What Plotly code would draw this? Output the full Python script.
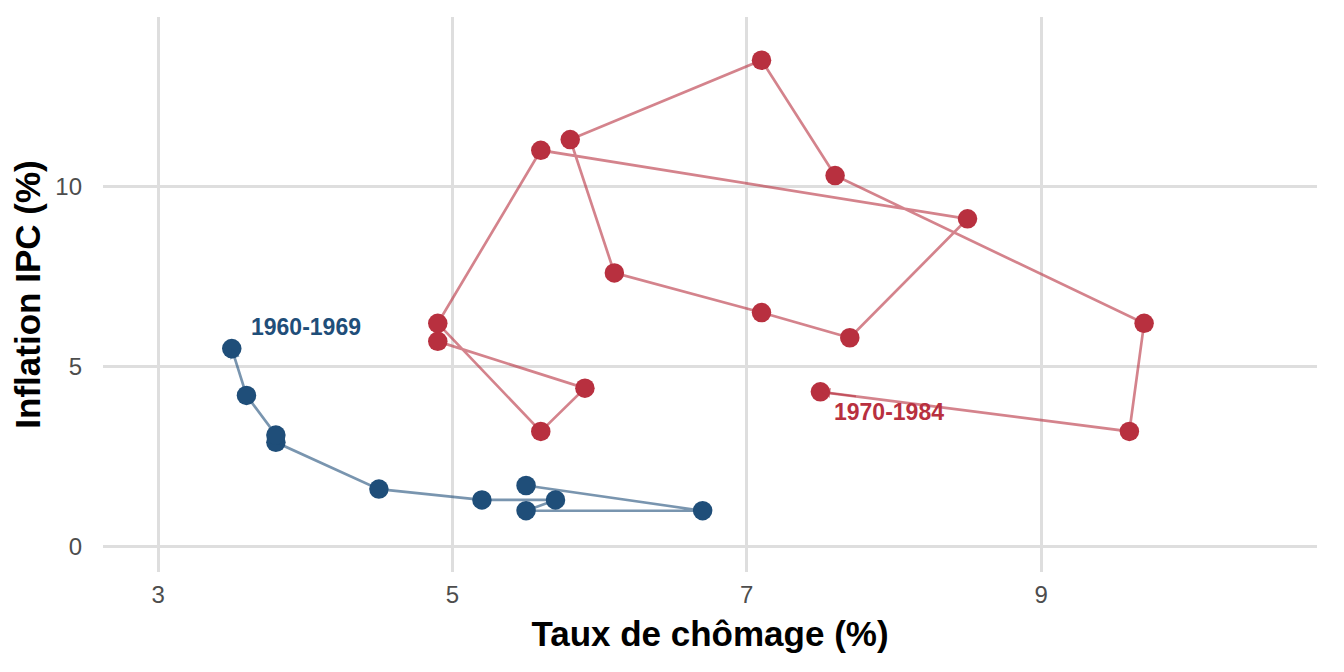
import plotly.graph_objects as go

# Courbe de Phillips, États-Unis
years_60s = list(range(1960, 1970))
unemp_60s = [5.5, 6.7, 5.5, 5.7, 5.2, 4.5, 3.8, 3.8, 3.6, 3.5]
infl_60s = [1.7, 1.0, 1.0, 1.3, 1.3, 1.6, 2.9, 3.1, 4.2, 5.5]

years_70s = list(range(1970, 1985))
unemp_70s = [4.9, 5.9, 5.6, 4.9, 5.6, 8.5, 7.7, 7.1, 6.1, 5.8, 7.1, 7.6, 9.7, 9.6, 7.5]
infl_70s = [5.7, 4.4, 3.2, 6.2, 11.0, 9.1, 5.8, 6.5, 7.6, 11.3, 13.5, 10.3, 6.2, 3.2, 4.3]

x_ticks = [3, 5, 7, 9]
y_ticks = [0, 5, 10]

BLUE = "#1F4E79"
BLUE_LINE = "rgba(31,78,121,0.6)"
RED = "#B8303F"
RED_LINE = "rgba(184,48,63,0.6)"
FONT = "Liberation Sans, Arial, sans-serif"

fig = go.Figure()

periods = [
    ("1960-1969", years_60s, unemp_60s, infl_60s, BLUE, BLUE_LINE, (0.12, 0.6)),
    ("1970-1984", years_70s, unemp_70s, infl_70s, RED, RED_LINE, (0.08, -0.55)),
]

for label, yrs, ux, iy, col, lcol, (dx, dy) in periods:
    fig.add_trace(go.Scatter(
        x=ux, y=iy, mode="lines",
        line=dict(color=lcol, width=2.7),
        hoverinfo="skip", showlegend=False,
    ))
    # small arrowhead on the last segment (short tail so the line isn't doubled)
    tail_x = ux[-1] + 0.12 * (ux[-2] - ux[-1])
    tail_y = iy[-1] + 0.12 * (iy[-2] - iy[-1])
    fig.add_annotation(
        x=ux[-1], y=iy[-1], ax=tail_x, ay=tail_y,
        xref="x", yref="y", axref="x", ayref="y",
        showarrow=True, arrowhead=2, arrowsize=1, arrowwidth=2,
        arrowcolor=lcol, standoff=0, text="",
    )
    fig.add_trace(go.Scatter(
        x=ux, y=iy, mode="markers",
        marker=dict(color=col, size=19.5),
        customdata=yrs,
        hovertemplate="%{customdata}<br>Chômage: %{x}%<br>Inflation: %{y}%<extra></extra>",
        name=label, showlegend=False,
    ))
    fig.add_annotation(
        x=ux[-1] + dx, y=iy[-1] + dy, xref="x", yref="y",
        text=f"<b>{label}</b>", showarrow=False,
        xanchor="left", yanchor="middle",
        font=dict(family=FONT, size=23, color=col),
    )

fig.update_xaxes(
    range=[2.625, 10.875], tickvals=x_ticks,
    showgrid=True, gridcolor="#DEDEDE", gridwidth=2.5,
    zeroline=False, showline=False, ticks="",
    ticklabelstandoff=6,
    tickfont=dict(family=FONT, size=24, color="#4D4D4D"),
    title=dict(text="<b>Taux de chômage (%)</b>", font=dict(family=FONT, size=35, color="black"), standoff=14),
)
fig.update_yaxes(
    range=[-0.7, 14.7], tickvals=y_ticks,
    showgrid=True, gridcolor="#DEDEDE", gridwidth=2.5,
    zeroline=False, showline=False, ticks="",
    ticklabelstandoff=20,
    tickfont=dict(family=FONT, size=24, color="#4D4D4D"),
    title=dict(text="<b>Inflation IPC (%)</b>", font=dict(family=FONT, size=35, color="black"), standoff=6),
)

fig.update_layout(
    width=1344, height=672,
    margin=dict(l=95, r=35, t=9, b=108),
    plot_bgcolor="white", paper_bgcolor="white",
    font=dict(family=FONT),
)

fig.write_html("out.html")
